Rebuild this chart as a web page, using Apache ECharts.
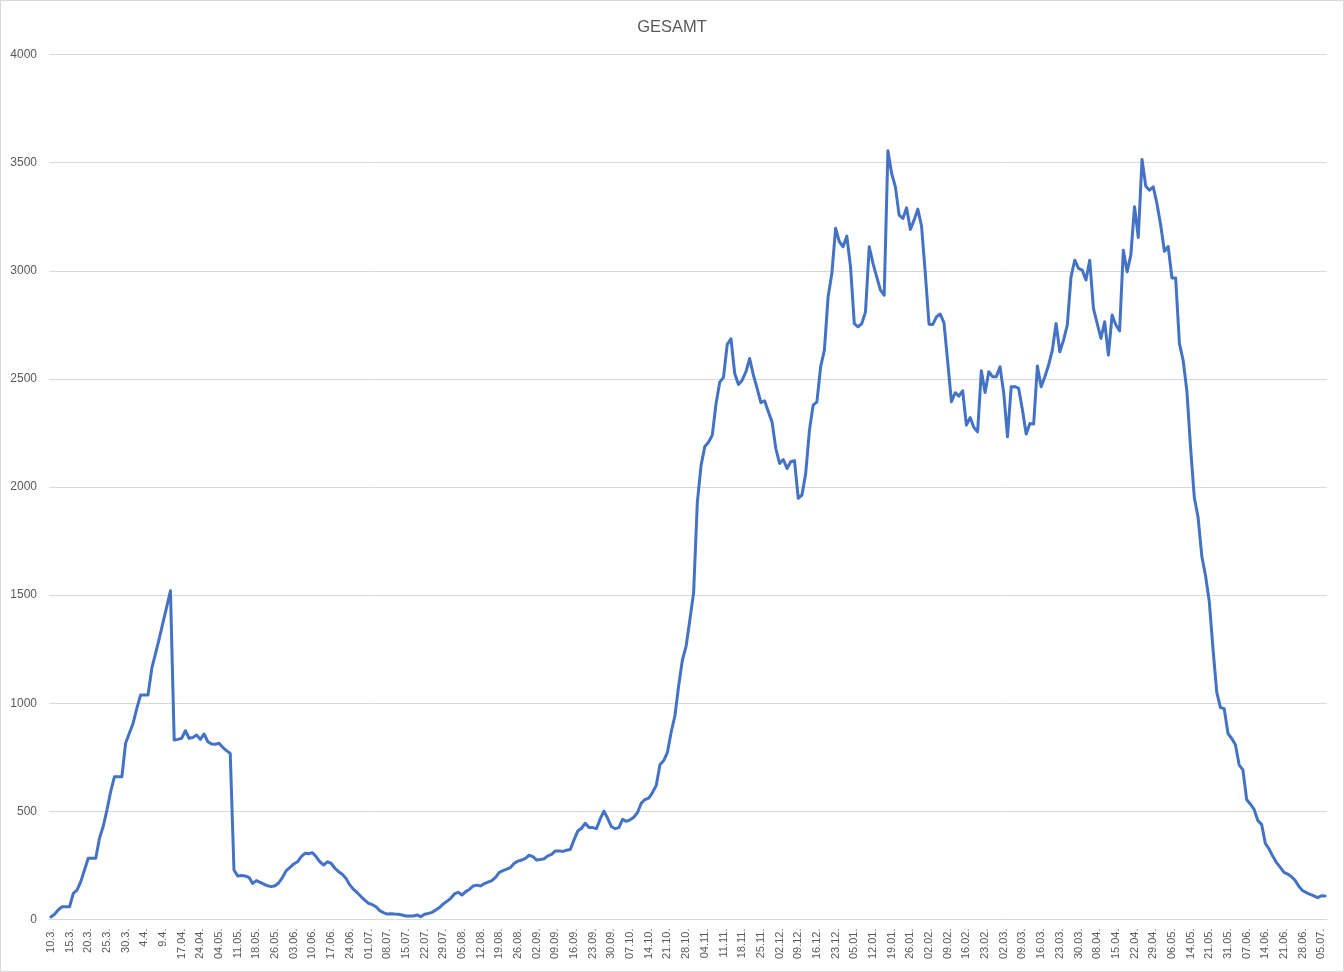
<!DOCTYPE html>
<html>
<head>
<meta charset="utf-8">
<script src="https://cdn.jsdelivr.net/npm/echarts@6/dist/echarts.min.js"></script>
<style>
  html, body { margin: 0; padding: 0; background: #ffffff; }
  #chart { position: absolute; left: 0; top: 0; width: 1344px; height: 972px; }
  #frame { position: absolute; left: 0; top: 0; width: 1344px; height: 972px; box-sizing: border-box; border: 1px solid #d9d9d9; pointer-events: none; }
</style>
</head>
<body>
<div id="chart"></div>
<div id="frame"></div>
<script>
// Tick labels shown on the category axis (one every 5 data points)
const tickLabels = ['10.3.','15.3.','20.3.','25.3.','30.3.','4.4.','9.4.','17.04.','24.04.','04.05.',
  '11.05.','18.05.','26.05.','03.06.','10.06.','17.06.','24.06.','01.07.','08.07.','15.07.',
  '22.07.','29.07.','05.08.','12.08.','19.08.','26.08.','02.09.','09.09.','16.09.','23.09.',
  '30.09.','07.10.','14.10.','21.10.','28.10.','04.11.','11.11.','18.11.','25.11.','02.12.',
  '09.12.','16.12.','23.12.','05.01.','12.01.','19.01.','26.01.','02.02.','09.02.','16.02.',
  '23.02.','02.03.','09.03.','16.03.','23.03.','30.03.','08.04.','15.04.','22.04.','29.04.',
  '06.05.','14.05.','21.05.','31.05.','07.06.','14.06.','21.06.','28.06.','05.07.'];
const labelStep = 5;

// Series values (GESAMT), one per category
const gesamt2020a = [12,24,45,59,59,59,121,136,175,229,283,283,283,375,430,506,591,660,660,660,
  815,861,907,976,1038,1038,1038,1161,1229,1299,1373,1446,1520,830,833,838,873,838,842,853,
  833,858,822,812,810,815,796,781,768,229,201,203,201,195,167,180,172,164,156,152,
  156,170,195,226,241,257,267,291,306,304,309,290,267,252,267,260,237,221,209,190];
const gesamt2020b = [160,139,124,106,90,75,69,59,41,32,25,27,25,24,21,16,16,16,21,13,
  24,28,33,44,55,72,84,98,118,126,113,129,139,155,159,155,166,173,180,195,
  218,226,233,240,260,270,275,283,297,291,275,277,281,294,301,317,317,315,320,324,
  368,409,422,445,426,425,420,465,501,468,430,420,425,463,454,461,473,495,538,555];
const gesamt2020c = [561,587,620,716,735,773,867,942,1081,1200,1264,1386,1510,1930,2100,2187,2207,2240,2385,2485,
  2507,2660,2685,2525,2474,2494,2533,2594,2517,2456,2390,2399,2348,2300,2178,2109,2127,2086,2117,2122,
  1948,1963,2063,2263,2379,2394,2556,2633,2880,2988,3196,3134,3111,3160,3018,2756,2741,2756,2810,3111,
  3034,2972,2910,2887,3555,3450,3388,3257,3242,3291,3191,3234,3285,3206,2988,2753,2752,2787,2800,2759];
const gesamt2021 = [2579,2394,2436,2420,2445,2286,2321,2275,2255,2537,2437,2533,2510,2510,2556,2433,2232,2464,2464,2456,
  2356,2245,2294,2291,2559,2464,2510,2564,2633,2756,2625,2679,2749,2972,3049,3011,3003,2957,3049,2826,
  2756,2687,2764,2610,2795,2749,2722,3095,2995,3072,3296,3154,3515,3391,3373,3388,3310,3210,3090,3112,
  2967,2967,2664,2586,2445,2180,1950,1860,1680,1590,1470,1250,1050,980,975,860,837,808,714,692,
  555,533,509,457,440,352,326,292,263,241,218,210,198,180,153,133,124,116,109,101,
  110,109];

const values = [].concat(gesamt2020a, gesamt2020b, gesamt2020c, gesamt2021);
const categories = values.map((v, i) => (i % labelStep === 0 && tickLabels[i / labelStep]) ? tickLabels[i / labelStep] : ('#' + i));

const chart = echarts.init(document.getElementById('chart'), null, { renderer: 'canvas' });
const FONT = '"Liberation Sans", Arial, sans-serif';
chart.setOption({
  animation: false,
  backgroundColor: '#ffffff',
  title: {
    text: 'GESAMT',
    left: 'center',
    top: 14,
    textStyle: { fontFamily: FONT, fontSize: 16.5, fontWeight: 'normal', color: '#595959' }
  },
  grid: { left: 49, right: 17, top: 54.5, bottom: 52.5, containLabel: false },
  xAxis: {
    type: 'category',
    data: categories,
    boundaryGap: true,
    axisLine: { show: true, lineStyle: { color: '#d9d9d9', width: 1 } },
    axisTick: { show: false },
    splitLine: { show: false },
    axisLabel: {
      interval: labelStep - 1,
      rotate: 90,
      margin: 9,
      color: '#595959',
      fontFamily: FONT,
      fontSize: 11,
      formatter: (v, idx) => (idx % labelStep === 0 ? tickLabels[idx / labelStep] : '')
    }
  },
  yAxis: {
    type: 'value',
    min: 0,
    max: 4000,
    interval: 500,
    axisLine: { show: false },
    axisTick: { show: false },
    splitLine: { show: true, lineStyle: { color: '#d9d9d9', width: 1 } },
    axisLabel: { margin: 12, color: '#595959', fontFamily: FONT, fontSize: 12, formatter: (v) => String(v) }
  },
  series: [{
    name: 'GESAMT',
    type: 'line',
    data: values,
    symbol: 'none',
    smooth: false,
    lineStyle: { color: '#4472C4', width: 3, join: 'round', cap: 'round' },
    itemStyle: { color: '#4472C4' }
  }]
});
</script>
</body>
</html>
